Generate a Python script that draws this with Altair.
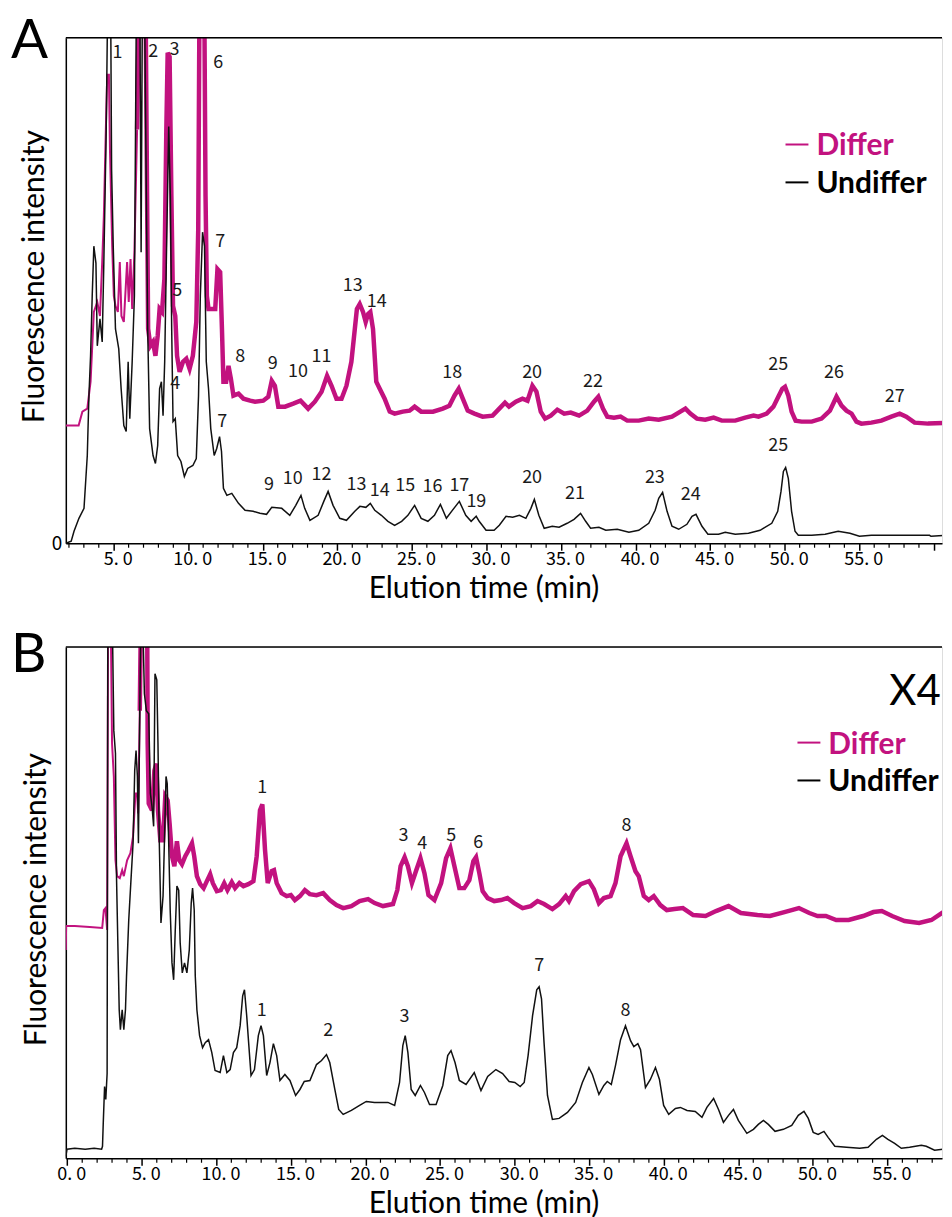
import altair as alt
import pandas as pd

MAGENTA = "#C2127F"
BLACK = "#111111"
NUMFONT = "Noto Sans CJK JP"
TXTFONT = "Lato"

# ---------------- Panel A data (time in min, intensity in arbitrary units) ----------------
A_UNDIFFER = [
    (1.80, 0), (2.15, 2), (2.34, 12), (2.67, 25), (3.01, 35), (3.23, 88), (3.34, 148), (3.45, 188),
    (3.56, 248), (3.67, 298), (3.81, 281), (3.90, 198), (4.08, 225), (4.23, 202), (4.34, 282),
    (4.50, 415), (4.61, 560), (4.79, 560), (4.86, 375), (4.97, 298), (5.12, 215), (5.34, 195),
    (5.50, 155), (5.68, 118), (5.84, 112), (5.97, 182), (6.08, 125), (6.24, 182), (6.39, 248),
    (6.53, 560), (6.75, 560), (6.84, 292), (6.93, 560), (7.06, 560), (7.19, 348), (7.28, 215),
    (7.41, 115), (7.64, 88), (7.80, 80), (7.95, 98), (8.08, 155), (8.20, 162), (8.31, 128),
    (8.42, 182), (8.53, 282), (8.69, 418), (8.80, 348), (8.89, 215), (8.98, 122), (9.13, 125),
    (9.29, 88), (9.51, 82), (9.74, 67), (9.96, 75), (10.31, 78), (10.54, 85), (10.69, 148),
    (10.81, 248), (10.96, 312), (11.09, 298), (11.21, 182), (11.36, 155), (11.51, 115),
    (11.74, 88), (11.91, 95), (12.10, 107), (12.23, 92), (12.36, 55), (12.59, 48), (12.92, 50),
    (13.37, 40), (13.81, 33), (14.35, 32), (14.81, 30), (15.25, 29), (15.60, 36), (16.27, 35),
    (16.81, 28), (17.21, 38), (17.56, 48), (17.81, 35), (18.16, 23), (18.71, 28), (19.09, 42),
    (19.38, 52), (19.71, 38), (20.16, 25), (20.61, 23), (21.17, 32), (21.51, 37), (21.91, 36),
    (22.21, 40), (22.51, 33), (22.95, 28), (23.39, 22), (23.84, 18), (24.31, 22), (24.73, 28),
    (25.18, 38), (25.62, 25), (26.07, 22), (26.51, 28), (26.91, 39), (27.31, 25), (27.71, 33),
    (28.18, 42), (28.61, 28), (28.97, 22), (29.31, 27), (29.51, 22), (29.97, 13), (30.51, 13),
    (30.86, 18), (31.31, 27), (31.75, 26), (32.21, 28), (32.64, 25), (32.98, 35), (33.21, 44),
    (33.51, 28), (33.87, 15), (34.41, 17), (34.87, 16), (35.41, 20), (35.87, 24), (36.31, 30),
    (36.65, 22), (36.98, 15), (37.54, 16), (38.00, 13), (38.77, 14), (39.55, 11), (40.21, 13),
    (40.88, 20), (41.31, 33), (41.55, 45), (41.81, 51), (42.11, 32), (42.44, 17), (42.89, 14),
    (43.44, 19), (43.78, 27), (44.05, 29), (44.45, 17), (44.85, 9), (45.56, 9), (46.01, 11),
    (46.68, 9), (47.57, 10), (48.35, 13), (49.13, 20), (49.53, 32), (49.75, 52), (49.91, 72),
    (50.06, 76), (50.24, 65), (50.46, 32), (50.69, 12), (50.91, 8), (51.81, 8), (52.71, 9),
    (53.58, 12), (54.37, 10), (55.01, 7), (55.81, 8), (57.11, 8), (59.71, 8), (59.81, 7),
    (61.07, 8),
]

A_DIFFER = [
    (1.80, 118), (2.65, 118), (2.90, 132), (3.23, 135), (3.45, 162), (3.67, 232), (3.90, 242),
    (4.08, 228), (4.23, 282), (4.34, 328), (4.50, 432), (4.57, 470), (4.68, 470), (4.75, 395),
    (4.90, 298), (5.01, 248), (5.12, 238), (5.28, 232), (5.41, 282), (5.52, 228), (5.68, 222),
    (5.90, 282), (6.01, 242), (6.13, 285), (6.24, 235), (6.39, 292), (6.57, 415), (6.71, 560),
    (7.13, 560), (7.24, 348), (7.31, 215), (7.46, 198), (7.64, 202), (7.80, 188), (7.95, 208),
    (8.08, 235), (8.24, 232), (8.40, 265), (8.53, 415), (8.62, 492), (8.75, 488), (8.87, 348),
    (8.98, 238), (9.13, 228), (9.25, 188), (9.42, 172), (9.65, 182), (9.87, 185), (10.09, 175),
    (10.31, 188), (10.54, 222), (10.67, 315), (10.76, 560), (11.07, 560), (11.16, 348),
    (11.25, 248), (11.36, 235), (11.81, 235), (11.96, 275), (12.14, 272), (12.26, 215),
    (12.36, 162), (12.54, 162), (12.70, 178), (12.86, 165), (13.03, 148), (13.37, 150),
    (13.70, 145), (14.15, 143), (14.48, 142), (15.03, 143), (15.37, 147), (15.60, 163),
    (15.81, 158), (16.04, 137), (16.49, 137), (17.04, 140), (17.53, 143), (18.04, 135),
    (18.49, 142), (18.94, 152), (19.31, 168), (19.61, 158), (19.94, 145), (20.28, 145),
    (20.61, 158), (20.94, 182), (21.17, 215), (21.31, 235), (21.50, 240), (21.72, 232),
    (21.90, 222), (22.06, 230), (22.21, 232), (22.39, 215), (22.61, 162), (22.84, 155),
    (23.17, 145), (23.51, 132), (23.84, 130), (24.39, 132), (24.84, 133), (25.18, 137),
    (25.62, 132), (26.41, 132), (27.07, 135), (27.51, 138), (27.85, 148), (28.14, 155),
    (28.41, 145), (28.74, 133), (29.19, 130), (29.74, 127), (30.41, 128), (30.86, 135),
    (31.24, 141), (31.51, 137), (31.97, 142), (32.41, 145), (32.75, 143), (33.08, 158),
    (33.35, 152), (33.64, 132), (33.93, 125), (34.31, 128), (34.75, 134), (35.21, 130),
    (35.65, 131), (36.21, 128), (36.76, 133), (37.21, 142), (37.50, 147), (37.81, 135),
    (38.10, 127), (38.55, 126), (38.99, 127), (39.44, 123), (40.21, 123), (40.88, 125),
    (41.55, 124), (42.44, 127), (43.00, 132), (43.34, 135), (43.67, 130), (44.11, 125),
    (44.67, 124), (45.23, 126), (45.78, 123), (46.68, 123), (47.35, 126), (47.91, 128),
    (48.24, 127), (48.79, 130), (49.24, 137), (49.57, 147), (49.84, 155), (50.02, 157),
    (50.24, 148), (50.46, 132), (50.73, 123), (51.13, 122), (51.81, 122), (52.47, 125),
    (53.03, 133), (53.47, 147), (53.81, 138), (54.14, 133), (54.48, 130), (54.81, 122),
    (55.14, 120), (55.81, 121), (56.48, 123), (57.15, 127), (57.71, 130), (58.15, 127),
    (58.71, 121), (59.61, 120), (61.07, 121),
]
A_THIN_UNTIL = 6.57

A_LABELS = [
    ("1", 5.26, 492), ("2", 7.66, 493), ("3", 9.07, 495), ("6", 12.01, 482), ("7", 12.14, 302),
    ("5", 9.27, 253), ("4", 9.13, 160), ("8", 13.48, 187), ("7", 12.28, 122), ("9", 15.66, 180),
    ("10", 17.36, 172), ("11", 18.94, 187), ("13", 21.03, 258), ("14", 22.64, 242),
    ("18", 27.70, 171), ("20", 33.06, 171), ("22", 37.14, 162), ("25", 49.56, 179),
    ("26", 53.30, 171), ("27", 57.38, 147), ("9", 15.41, 58), ("10", 17.00, 64),
    ("12", 18.94, 68), ("13", 21.28, 58), ("14", 22.84, 52), ("15", 24.55, 57),
    ("16", 26.38, 56), ("17", 28.18, 57), ("19", 29.32, 41), ("20", 33.06, 65),
    ("21", 35.94, 49), ("23", 41.29, 65), ("24", 43.69, 48), ("25", 49.56, 98),
]

# ---------------- Panel B data ----------------
B_UNDIFFER = [
    (-0.10, 2), (-0.02, 9), (0.50, 10), (1.20, 9), (1.80, 10), (2.30, 9), (2.36, 12), (2.41, 35),
    (2.50, 72), (2.58, 59), (2.67, 85), (2.72, 560), (3.00, 560), (3.12, 429), (3.23, 406),
    (3.30, 282), (3.39, 215), (3.48, 149), (3.56, 129), (3.68, 149), (3.79, 129), (3.90, 149),
    (3.97, 182), (4.12, 239), (4.28, 282), (4.41, 316), (4.52, 389), (4.61, 409), (4.70, 383),
    (4.77, 316), (4.86, 449), (4.95, 560), (5.03, 560), (5.17, 466), (5.30, 449), (5.46, 446),
    (5.57, 366), (5.68, 353), (5.79, 333), (5.88, 486), (6.00, 480), (6.08, 416), (6.17, 316),
    (6.28, 236), (6.42, 263), (6.51, 316), (6.62, 383), (6.70, 376), (6.80, 316), (6.90, 249),
    (7.02, 196), (7.13, 179), (7.24, 229), (7.35, 273), (7.47, 269), (7.57, 216), (7.71, 186),
    (7.86, 196), (8.02, 186), (8.18, 209), (8.31, 256), (8.40, 271), (8.51, 249), (8.58, 183),
    (8.69, 149), (8.87, 123), (9.07, 111), (9.25, 116), (9.47, 119), (9.69, 106), (9.91, 88),
    (10.25, 86), (10.47, 103), (10.70, 86), (10.92, 89), (11.14, 106), (11.36, 111),
    (11.59, 133), (11.76, 163), (11.88, 169), (12.03, 143), (12.14, 120), (12.32, 83),
    (12.55, 89), (12.81, 123), (12.99, 133), (13.15, 123), (13.37, 83), (13.59, 96),
    (13.82, 115), (14.04, 103), (14.26, 78), (14.59, 84), (14.93, 78), (15.31, 63), (15.60, 69),
    (15.89, 77), (16.27, 78), (16.71, 94), (17.05, 98), (17.38, 104), (17.60, 96), (17.94, 69),
    (18.20, 49), (18.50, 44), (19.05, 48), (19.60, 53), (20.05, 57), (20.60, 56), (21.50, 56),
    (21.95, 53), (22.28, 76), (22.50, 113), (22.66, 123), (22.84, 106), (23.06, 69),
    (23.33, 63), (23.68, 73), (23.95, 66), (24.29, 54), (24.73, 54), (25.18, 73), (25.51, 103),
    (25.73, 108), (26.00, 96), (26.29, 78), (26.74, 74), (27.29, 86), (27.74, 68), (28.19, 82),
    (28.74, 89), (29.19, 85), (29.63, 77), (30.01, 76), (30.37, 72), (30.64, 76), (30.90, 103),
    (31.20, 143), (31.48, 169), (31.64, 172), (31.80, 160), (31.97, 116), (32.20, 63),
    (32.53, 39), (32.98, 40), (33.54, 46), (34.09, 56), (34.54, 76), (34.98, 91), (35.21, 84),
    (35.65, 64), (35.98, 73), (36.21, 77), (36.48, 74), (36.76, 93), (37.10, 119), (37.43, 133),
    (37.77, 118), (37.99, 112), (38.26, 115), (38.44, 109), (38.77, 71), (39.10, 79),
    (39.44, 91), (39.71, 79), (39.99, 53), (40.33, 44), (40.78, 50), (41.11, 51), (41.56, 48),
    (42.11, 47), (42.56, 41), (42.89, 51), (43.34, 60), (43.67, 49), (44.00, 36), (44.34, 43),
    (44.67, 49), (45.00, 38), (45.57, 25), (46.01, 29), (46.34, 34), (46.68, 38), (47.01, 34),
    (47.46, 27), (48.02, 29), (48.58, 33), (49.02, 43), (49.40, 47), (49.69, 40), (50.02, 26),
    (50.35, 24), (50.74, 27), (51.02, 21), (51.47, 12), (52.25, 11), (53.14, 10), (53.70, 11),
    (54.26, 19), (54.66, 23), (55.03, 19), (55.48, 15), (55.93, 10), (56.48, 11), (57.27, 13),
    (57.60, 12), (58.16, 8), (58.70, 9), (59.29, 9),
]

B_DIFFER = [
    (-0.10, 209), (-0.08, 233), (0.50, 233), (1.50, 232), (2.34, 231), (2.45, 249), (2.56, 251),
    (2.67, 229), (2.74, 560), (2.90, 560), (3.00, 416), (3.12, 383), (3.23, 299), (3.34, 283),
    (3.52, 281), (3.68, 289), (3.79, 283), (4.01, 299), (4.23, 306), (4.41, 323), (4.57, 366),
    (4.68, 366), (4.75, 346), (4.86, 449), (4.95, 560), (5.35, 560), (5.39, 416), (5.46, 356),
    (5.68, 349), (5.84, 389), (5.97, 396), (6.08, 349), (6.24, 319), (6.42, 319), (6.57, 363),
    (6.73, 359), (6.86, 336), (7.02, 303), (7.18, 293), (7.35, 318), (7.51, 299), (7.69, 295),
    (7.91, 303), (8.13, 309), (8.36, 316), (8.51, 303), (8.69, 283), (8.91, 275), (9.14, 271),
    (9.36, 278), (9.58, 285), (9.76, 276), (10.03, 268), (10.29, 269), (10.52, 276),
    (10.74, 269), (11.03, 277), (11.25, 271), (11.54, 276), (11.81, 273), (12.14, 275),
    (12.48, 278), (12.70, 303), (12.92, 349), (13.08, 355), (13.26, 309), (13.44, 276),
    (13.70, 288), (13.86, 289), (14.04, 276), (14.37, 266), (14.71, 263), (14.99, 264),
    (15.26, 259), (15.60, 263), (15.93, 269), (16.26, 265), (16.71, 264), (17.16, 266),
    (17.60, 259), (18.05, 254), (18.50, 251), (19.05, 253), (19.60, 258), (20.17, 260),
    (20.61, 256), (21.17, 253), (21.84, 255), (22.13, 269), (22.35, 293), (22.62, 302),
    (22.84, 293), (23.11, 276), (23.40, 289), (23.68, 301), (23.95, 286), (24.22, 264),
    (24.62, 259), (25.07, 276), (25.40, 301), (25.69, 311), (25.96, 293), (26.29, 271),
    (26.62, 271), (26.96, 279), (27.23, 298), (27.41, 302), (27.63, 286), (27.85, 268),
    (28.19, 261), (28.63, 258), (29.08, 259), (29.52, 261), (29.97, 256), (30.53, 251),
    (31.08, 253), (31.53, 258), (31.97, 255), (32.53, 250), (32.98, 255), (33.42, 263),
    (33.64, 258), (33.98, 268), (34.43, 275), (34.98, 278), (35.31, 270), (35.65, 256),
    (35.98, 261), (36.43, 263), (36.76, 276), (37.10, 303), (37.50, 316), (37.77, 303),
    (38.10, 288), (38.32, 283), (38.66, 263), (38.99, 259), (39.33, 263), (39.77, 254),
    (40.20, 249), (40.72, 250), (41.28, 251), (41.97, 244), (42.80, 243), (43.50, 248),
    (44.34, 253), (45.17, 246), (46.28, 244), (47.12, 243), (48.09, 247), (49.06, 251),
    (49.76, 246), (50.31, 243), (50.87, 243), (51.56, 239), (52.40, 239), (53.37, 243),
    (54.06, 247), (54.62, 248), (55.31, 243), (56.15, 238), (57.12, 236), (57.95, 239),
    (58.65, 246), (59.29, 243),
]
B_THIN_UNTIL = 4.86

B_LABELS = [
    ("1", 13.08, 371), ("3", 22.55, 323), ("4", 23.80, 315), ("5", 25.74, 323),
    ("6", 27.56, 316), ("8", 37.50, 333), ("1", 13.03, 148), ("2", 17.49, 128),
    ("3", 22.61, 142), ("7", 31.64, 193), ("8", 37.43, 148),
]

SERIES_NAMES = ["Differ", "Undiffer"]
X_TITLE = "Elution time (min)"
Y_TITLE = "Fluorescence intensity"


def frame(pairs):
    return pd.DataFrame(pairs, columns=["t", "y"])


def one_row():
    return pd.DataFrame({"k": [0]})


def panel(letter, und, dif, thin_until, labels, xdom, ydom, W, H, major, minor,
          ylabel_zero, ytitle_x, ytitle_y, xtitle_x, letter_x, letter_y,
          legend_x, legend_y, extra_text=None):
    xs = alt.Scale(domain=xdom, nice=False, zero=False)
    ys = alt.Scale(domain=ydom, nice=False, zero=False)

    x_axis = alt.Axis(
        values=major,
        labelExpr="datum.value < 60 ? replace(format(datum.value, '.1f'), '.', '. ') : ''",
        tickSize=7, tickWidth=1.5, tickColor="black",
        labelPadding=0, labelOffset=4, labelFont=NUMFONT, labelFontSize=18, labelColor="black",
        labelFlush=False, labelOverlap=False, labelBound=False,
        domainColor="black", domainWidth=1.5, grid=False,
        title=X_TITLE, titleX=xtitle_x, titleY=54, titleAlign="center",
        titleBaseline="alphabetic", titleFont=TXTFONT, titleFontSize=30,
        titleFontWeight="normal", titleColor="black",
    )
    y_axis = alt.Axis(
        values=[0],
        labels=ylabel_zero, labelExpr="'0'", ticks=False, labelPadding=4,
        labelFont=NUMFONT, labelFontSize=19, labelColor="black",
        domainColor="black", domainWidth=1.5, grid=False,
        title=Y_TITLE, titleX=ytitle_x, titleY=ytitle_y, titleAngle=270,
        titleAlign="center", titleBaseline="alphabetic", titleFont=TXTFONT,
        titleFontSize=30, titleFontWeight="normal", titleColor="black",
    )
    X = alt.X("t:Q", scale=xs, axis=x_axis)
    Y = alt.Y("y:Q", scale=ys, axis=y_axis)

    d = frame(dif)
    d_thin = d[d.t <= thin_until]
    d_thick = d[d.t >= thin_until]
    u = frame(und)

    thin = alt.Chart(d_thin).mark_line(color=MAGENTA, strokeWidth=2, clip=True).encode(x=X, y=Y)
    thick = alt.Chart(d_thick).mark_line(color=MAGENTA, strokeWidth=4.5, clip=True).encode(x=X, y=Y)
    black = alt.Chart(u).mark_line(color=BLACK, strokeWidth=1.5, clip=True).encode(x=X, y=Y)

    lab = pd.DataFrame(labels, columns=["label", "t", "y"])
    texts = alt.Chart(lab).mark_text(font=NUMFONT, fontSize=18, color="#1a1a1a",
                                     baseline="middle", align="center").encode(
        x=X, y=Y, text="label:N")

    minor_df = pd.DataFrame({"t": minor})
    minor_ticks = alt.Chart(minor_df).mark_rule(color="black", strokeWidth=1.2).encode(
        x=X, y=alt.value(H + 0.5), y2=alt.value(H + 4.5))

    top_border = alt.Chart(one_row()).mark_rule(color="black", strokeWidth=1.5).encode(
        x=alt.value(0), x2=alt.value(W), y=alt.value(0))

    letter_mark = alt.Chart(one_row()).mark_text(
        text=letter, font=TXTFONT, fontSize=55, align="left", baseline="alphabetic",
        color="black").encode(x=alt.value(letter_x), y=alt.value(letter_y))

    lx, ly = legend_x, legend_y
    leg = []
    for i, (name, col) in enumerate(zip(SERIES_NAMES, [MAGENTA, "black"])):
        yy = ly + i * 38
        leg.append(alt.Chart(one_row()).mark_rule(color=col, strokeWidth=2).encode(
            x=alt.value(lx), x2=alt.value(lx + 23), y=alt.value(yy)))
        leg.append(alt.Chart(one_row()).mark_text(
            text=name, font=TXTFONT, fontSize=30, fontWeight="bold", color=col,
            align="left", baseline="middle").encode(
            x=alt.value(lx + 31), y=alt.value(yy + 2)))

    layers = [thin, thick, black, texts, minor_ticks, top_border, letter_mark] + leg
    if extra_text is not None:
        txt, ex, ey = extra_text
        layers.append(alt.Chart(one_row()).mark_text(
            text=txt, font=TXTFONT, fontSize=42, align="center", baseline="middle",
            color="black").encode(x=alt.value(ex), y=alt.value(ey)))

    return alt.layer(*layers).properties(width=W, height=H)


WA, HA = 879, 507
WB, HB = 879, 513

panel_a = panel(
    "A", A_UNDIFFER, A_DIFFER, A_THIN_UNTIL, A_LABELS,
    xdom=[1.79, 1.79 + WA / 14.96], ydom=[0, HA], W=WA, H=HA,
    major=[5, 10, 15, 20, 25, 30, 35, 40, 45, 50, 55, 60],
    minor=[m for m in range(2, 61) if m % 5 != 0],
    ylabel_zero=True, ytitle_x=-22, ytitle_y=239, xtitle_x=419,
    letter_x=-55, letter_y=20, legend_x=722, legend_y=107,
)
panel_b = panel(
    "B", B_UNDIFFER, B_DIFFER, B_THIN_UNTIL, B_LABELS,
    xdom=[-0.1, -0.1 + WB / 14.96], ydom=[0, HB], W=WB, H=HB,
    major=[0, 5, 10, 15, 20, 25, 30, 35, 40, 45, 50, 55],
    minor=[m for m in range(1, 59) if m % 5 != 0],
    ylabel_zero=False, ytitle_x=-20, ytitle_y=253, xtitle_x=419,
    letter_x=-55, letter_y=25, legend_x=734, legend_y=96,
    extra_text=("X4", 852, 45),
)

chart = alt.concat(panel_a, panel_b, columns=1, spacing=23).properties(
    padding={"left": 2, "top": 3, "right": 0, "bottom": 0}
).configure_view(stroke=None).configure(background="white")

chart.save("out.html", embed_options={"renderer": "svg", "actions": False})
